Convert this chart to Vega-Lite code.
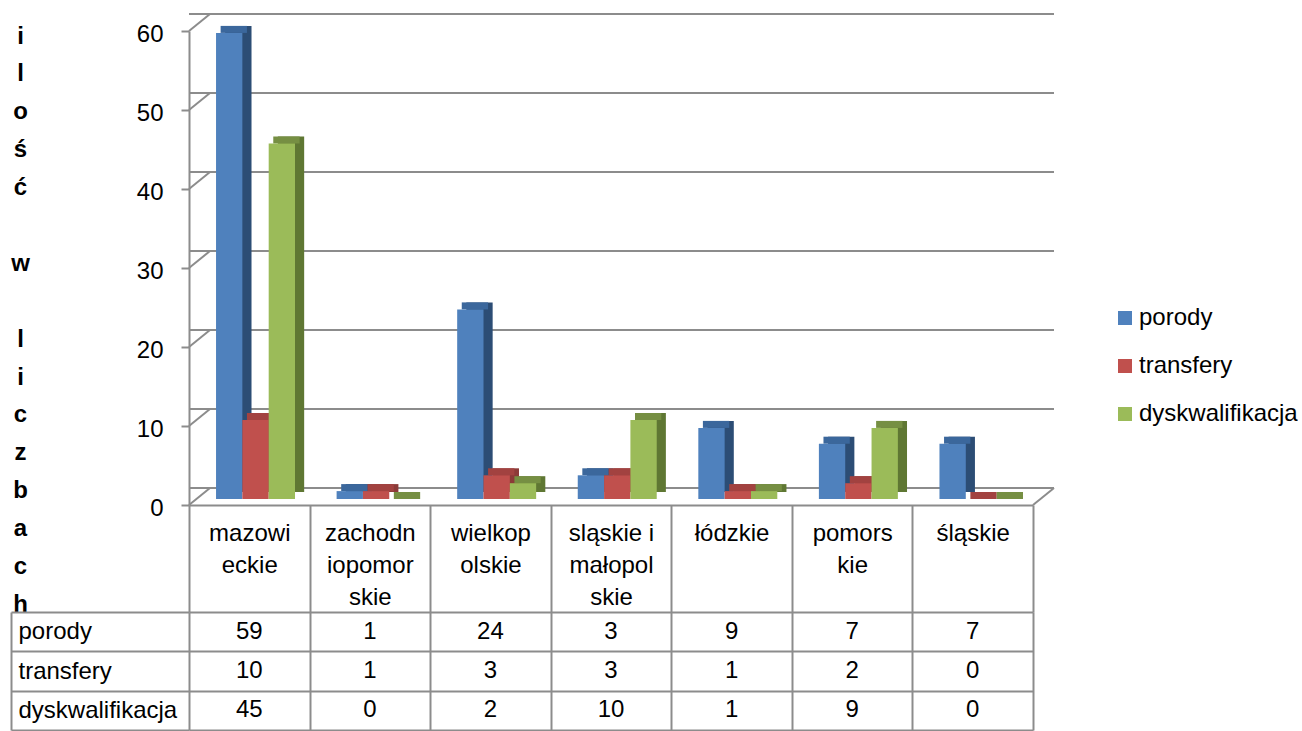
{
  "$schema": "https://vega.github.io/schema/vega-lite/v6.json",
  "padding": {"left": 10, "top": 13, "right": 0, "bottom": 0},
  "background": "white",
  "config": {
    "view": {"stroke": null},
    "font": "Liberation Sans",
    "axis": {"labelFont": "Liberation Sans", "titleFont": "Liberation Sans", "labelColor": "#000000", "titleColor": "#000000"},
    "legend": {"labelFont": "Liberation Sans"}
  },
  "datasets": {
    "counts": [
      {"region": "mazowieckie", "series": "porody", "value": 59},
      {"region": "mazowieckie", "series": "transfery", "value": 10},
      {"region": "mazowieckie", "series": "dyskwalifikacja", "value": 45},
      {"region": "zachodniopomorskie", "series": "porody", "value": 1},
      {"region": "zachodniopomorskie", "series": "transfery", "value": 1},
      {"region": "zachodniopomorskie", "series": "dyskwalifikacja", "value": 0},
      {"region": "wielkopolskie", "series": "porody", "value": 24},
      {"region": "wielkopolskie", "series": "transfery", "value": 3},
      {"region": "wielkopolskie", "series": "dyskwalifikacja", "value": 2},
      {"region": "sląskie i małopolskie", "series": "porody", "value": 3},
      {"region": "sląskie i małopolskie", "series": "transfery", "value": 3},
      {"region": "sląskie i małopolskie", "series": "dyskwalifikacja", "value": 10},
      {"region": "łódzkie", "series": "porody", "value": 9},
      {"region": "łódzkie", "series": "transfery", "value": 1},
      {"region": "łódzkie", "series": "dyskwalifikacja", "value": 1},
      {"region": "pomorskie", "series": "porody", "value": 7},
      {"region": "pomorskie", "series": "transfery", "value": 2},
      {"region": "pomorskie", "series": "dyskwalifikacja", "value": 9},
      {"region": "śląskie", "series": "porody", "value": 7},
      {"region": "śląskie", "series": "transfery", "value": 0},
      {"region": "śląskie", "series": "dyskwalifikacja", "value": 0}
    ],
    "grid": [{"v": 0}, {"v": 10}, {"v": 20}, {"v": 30}, {"v": 40}, {"v": 50}, {"v": 60}],
    "floor": [{"v": 0}]
  },
  "bounds": "flush",
  "spacing": 107,
  "vconcat": [
    {
      "width": 844,
      "height": 474,
      "layer": [
        {
          "data": {"name": "grid"},
          "mark": {"type": "rule", "color": "#8c8c8c", "strokeWidth": 2, "xOffset": 21, "x2Offset": 21, "yOffset": -17},
          "encoding": {
            "y": {
              "field": "v", "type": "quantitative",
              "scale": {"domain": [0, 60], "nice": false, "zero": true},
              "axis": {
                "values": [0, 10, 20, 30, 40, 50, 60],
                "tickSize": 8, "tickColor": "#8c8c8c", "tickWidth": 2,
                "domainColor": "#8c8c8c", "domainWidth": 2,
                "labelFontSize": 24, "labelPadding": 18, "labelOffset": 3, "grid": false,
                "title": ["i", "l", "o", "ś", "ć"],
                "titleAngle": 0, "titleAlign": "center", "titleBaseline": "top",
                "titleX": -169, "titleY": -7, "titleLineHeight": 37.9,
                "titleFontSize": 24, "titleFontWeight": "bold"
              }
            }
          }
        },
        {
          "data": {"name": "grid"},
          "mark": {"type": "rule", "color": "#8c8c8c", "strokeWidth": 2, "xOffset": -60.29, "x2Offset": -39.29, "y2Offset": -17},
          "encoding": {
            "x": {"datum": "mazowieckie", "type": "nominal"},
            "x2": {"datum": "mazowieckie"},
            "y": {
              "field": "v", "type": "quantitative",
              "axis": {
                "orient": "left", "labels": false, "ticks": false, "domain": false, "grid": false,
                "title": "w",
                "titleAngle": 0, "titleAlign": "center", "titleBaseline": "top",
                "titleX": -169, "titleY": 220.4, "titleLineHeight": 37.9,
                "titleFontSize": 24, "titleFontWeight": "bold"
              }
            },
            "y2": {"field": "v"}
          }
        },
        {
          "data": {"name": "floor"},
          "mark": {"type": "rule", "color": "#8c8c8c", "strokeWidth": 2, "xOffset": 60.29, "x2Offset": 81.29, "y2Offset": -17},
          "encoding": {
            "x": {"datum": "śląskie", "type": "nominal"},
            "x2": {"datum": "śląskie"},
            "y": {
              "field": "v", "type": "quantitative",
              "axis": {
                "orient": "left", "labels": false, "ticks": false, "domain": false, "grid": false,
                "title": ["l", "i", "c", "z", "b", "a", "c", "h"],
                "titleAngle": 0, "titleAlign": "center", "titleBaseline": "top",
                "titleX": -169, "titleY": 296.2, "titleLineHeight": 37.9,
                "titleFontSize": 24, "titleFontWeight": "bold"
              }
            },
            "y2": {"field": "v"}
          }
        },
        {
          "data": {"name": "counts"},
          "mark": {"type": "bar", "yOffset": -13, "y2Offset": -6},
          "encoding": {
            "x": {
              "field": "region", "type": "nominal",
              "scale": {"domain": ["mazowieckie", "zachodniopomorskie", "wielkopolskie", "sląskie i małopolskie", "łódzkie", "pomorskie", "śląskie"], "paddingInner": 0, "paddingOuter": 0},
              "axis": {
                "orient": "bottom", "tickBand": "extent", "tickSize": 107, "tickColor": "#8c8c8c", "tickWidth": 2,
                "domainColor": "#8c8c8c", "domainWidth": 2,
                "labelAngle": 0, "labelAlign": "center", "labelBaseline": "top", "labelPadding": -91, "labelLineHeight": 32,
                "labelFontSize": 24, "labelOverlap": false, "labelLimit": 0, "title": null,
                "labelExpr": "datum.value == 'mazowieckie' ? ['mazowi','eckie'] : datum.value == 'zachodniopomorskie' ? ['zachodn','iopomor','skie'] : datum.value == 'wielkopolskie' ? ['wielkop','olskie'] : datum.value == 'sląskie i małopolskie' ? ['sląskie i','małopol','skie'] : datum.value == 'pomorskie' ? ['pomors','kie'] : datum.label"
              }
            },
            "xOffset": {"field": "series", "type": "nominal", "scale": {"domain": ["porody", "transfery", "dyskwalifikacja"], "paddingInner": 0, "paddingOuter": 0.79, "align": 0.87}},
            "y": {"field": "value", "type": "quantitative", "axis": null},
            "color": {"field": "series", "type": "nominal", "scale": {"domain": ["porody", "transfery", "dyskwalifikacja"], "range": ["#2C4D75", "#8C3A38", "#5F7733"]}, "legend": null}
          }
        },
        {
          "data": {"name": "counts"},
          "mark": {"type": "bar", "yOffset": -13, "y2Offset": -6},
          "encoding": {
            "x": {"field": "region", "type": "nominal"},
            "xOffset": {"field": "series", "type": "nominal", "scale": {"domain": ["porody", "transfery", "dyskwalifikacja"], "paddingInner": 0, "paddingOuter": 0.79, "align": 0.76}},
            "y": {"field": "value", "type": "quantitative", "axis": null},
            "y2": {"field": "value"},
            "color": {"field": "series", "type": "nominal", "scale": {"domain": ["porody", "transfery", "dyskwalifikacja"], "range": ["#3B679C", "#A24240", "#768F43"]}, "legend": null}
          }
        },
        {
          "data": {"name": "counts"},
          "mark": {"type": "bar", "yOffset": -6, "y2Offset": -6},
          "encoding": {
            "x": {"field": "region", "type": "nominal"},
            "xOffset": {"field": "series", "type": "nominal", "scale": {"domain": ["porody", "transfery", "dyskwalifikacja"], "paddingInner": 0, "paddingOuter": 0.79, "align": 0.65}},
            "y": {"field": "value", "type": "quantitative", "axis": null},
            "color": {
              "field": "series", "type": "nominal",
              "scale": {"domain": ["porody", "transfery", "dyskwalifikacja"], "range": ["#4F81BD", "#C0504D", "#9BBB59"]},
              "legend": {
                "orient": "none", "legendX": 924, "legendY": 275, "title": null,
                "symbolType": "square", "symbolSize": 196, "symbolStrokeWidth": 0,
                "labelFontSize": 24, "labelOffset": 2, "rowPadding": 24, "labelColor": "#000000"
              }
            }
          }
        }
      ],
      "resolve": {"scale": {"color": "independent", "xOffset": "independent"}, "axis": {"y": "independent"}}
    },
    {
      "width": 844,
      "height": 118,
      "data": {"name": "counts"},
      "layer": [
        {
          "mark": {"type": "text", "fontSize": 24, "font": "Liberation Sans", "color": "#000000"},
          "encoding": {
            "x": {
              "field": "region", "type": "nominal",
              "scale": {"domain": ["mazowieckie", "zachodniopomorskie", "wielkopolskie", "sląskie i małopolskie", "łódzkie", "pomorskie", "śląskie"], "paddingInner": 0, "paddingOuter": 0},
              "axis": {"orient": "bottom", "labels": false, "ticks": false, "domain": false, "grid": true, "tickBand": "extent", "gridColor": "#8c8c8c", "gridWidth": 2, "title": null}
            },
            "y": {
              "field": "series", "type": "nominal",
              "scale": {"domain": ["porody", "transfery", "dyskwalifikacja"], "paddingInner": 0, "paddingOuter": 0},
              "axis": {
                "tickBand": "extent", "tickSize": 178, "tickColor": "#8c8c8c", "tickWidth": 2,
                "grid": true, "gridColor": "#8c8c8c", "gridWidth": 2, "domain": false,
                "labelAlign": "left", "labelPadding": -7, "labelFontSize": 24, "labelOverlap": false, "title": null
              }
            },
            "text": {"field": "value", "type": "quantitative"}
          }
        },
        {
          "mark": {"type": "rule", "opacity": 0},
          "encoding": {
            "y": {
              "field": "series", "type": "nominal",
              "scale": {"domain": ["porody", "transfery", "dyskwalifikacja"], "paddingInner": 0, "paddingOuter": 0},
              "axis": {"orient": "left", "offset": 178, "labels": false, "ticks": false, "grid": false, "domain": true, "domainColor": "#8c8c8c", "domainWidth": 2, "title": null}
            }
          }
        }
      ],
      "resolve": {"scale": {"y": "independent"}, "axis": {"y": "independent"}}
    }
  ]
}
